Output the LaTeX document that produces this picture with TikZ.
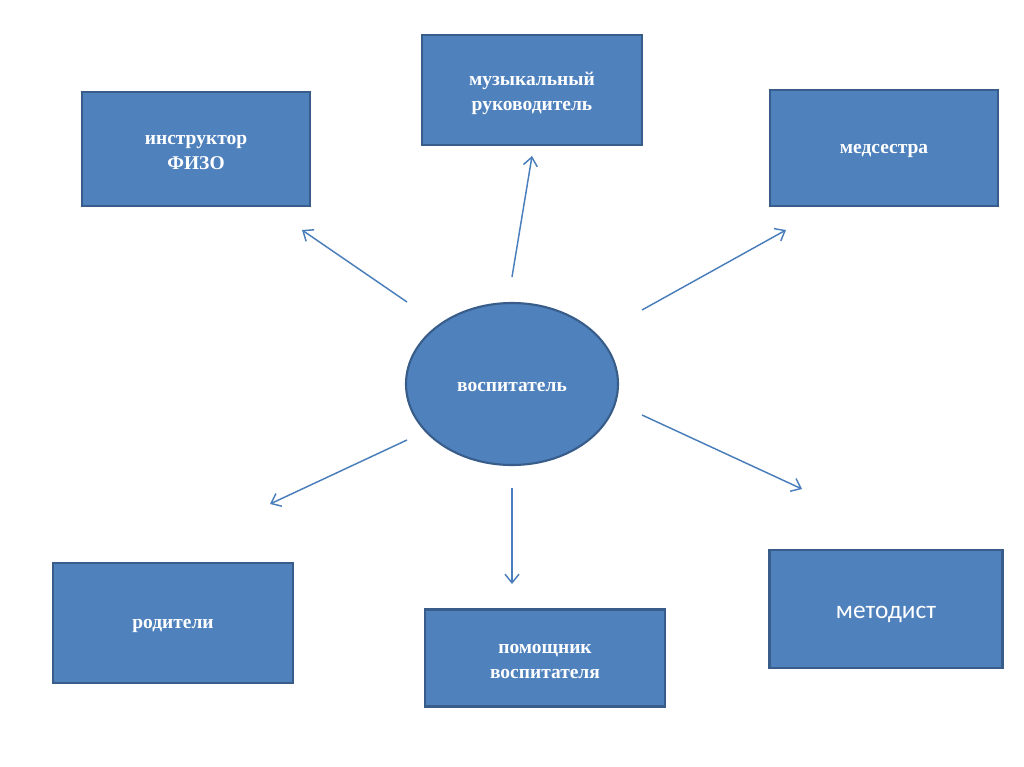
\documentclass[tikz,border=0pt]{standalone}
\usepackage{fontspec}
\setmainfont{Liberation Serif}
\newfontfamily\calib{Carlito}
\usetikzlibrary{shapes.geometric,arrows.meta}
\definecolor{boxfill}{HTML}{4F81BD}
\definecolor{boxline}{HTML}{385D8A}
\definecolor{arrowcol}{HTML}{4A7EBB}
\tikzset{
  rolebox/.style={draw=boxline, line width=1.6pt, fill=boxfill, inner sep=0pt},
  roletext/.style={text=white, font=\bfseries\fontsize{14.6}{18.8}\selectfont, align=center, yshift=-2.5pt},
  conn/.style={draw=arrowcol, line width=1.1pt, -{Straight Barb[length=6.5pt,width=10.5pt,line width=1.1pt]}}
}
\begin{document}
\begin{tikzpicture}[x=0.75pt,y=-0.75pt]
\useasboundingbox (0,0) rectangle (1024,767);
\fill[white] (0,0) rectangle (1024,767);
% boxes
\node[rolebox, minimum width=228*0.75pt, minimum height=114*0.75pt,
  label={[roletext]center:инструктор\\ФИЗО}] (fizo) at (196,149) {};
\node[rolebox, minimum width=220*0.75pt, minimum height=110*0.75pt,
  label={[roletext]center:музыкальный\\руководитель}] (music) at (532,90) {};
\node[rolebox, minimum width=228*0.75pt, minimum height=116*0.75pt,
  label={[roletext]center:медсестра}] (med) at (884,148) {};
\node[rolebox, minimum width=240*0.75pt, minimum height=120*0.75pt,
  label={[roletext]center:родители}] (rod) at (173,623) {};
\node[rolebox, minimum width=240*0.75pt, minimum height=97*0.75pt,
  label={[roletext]center:помощник\\воспитателя}] (pom) at (545,658) {};
\node[rolebox, minimum width=233*0.75pt, minimum height=118*0.75pt,
  label={[roletext, font=\calib\fontsize{19}{23}\selectfont, yshift=-1.5pt]center:методист}] (met) at (886,609) {};
\node[rolebox, ellipse, minimum width=212*0.75pt, minimum height=162*0.75pt,
  label={[roletext]center:воспитатель}] (vos) at (512,384) {};
% arrow end points
\coordinate (a1s) at (407,302); \coordinate (a1e) at (302,230);
\coordinate (a2s) at (512,277); \coordinate (a2e) at (532,156);
\coordinate (a3s) at (642,310); \coordinate (a3e) at (786,230);
\coordinate (a4s) at (407,440); \coordinate (a4e) at (270,504);
\coordinate (a5s) at (512,488); \coordinate (a5e) at (512,584);
\coordinate (a6s) at (642,415); \coordinate (a6e) at (802,489);
\draw[conn] (a1s) -- (a1e);
\draw[conn] (a2s) -- (a2e);
\draw[conn] (a3s) -- (a3e);
\draw[conn] (a4s) -- (a4e);
\draw[conn] (a5s) -- (a5e);
\draw[conn] (a6s) -- (a6e);
\end{tikzpicture}
\end{document}
